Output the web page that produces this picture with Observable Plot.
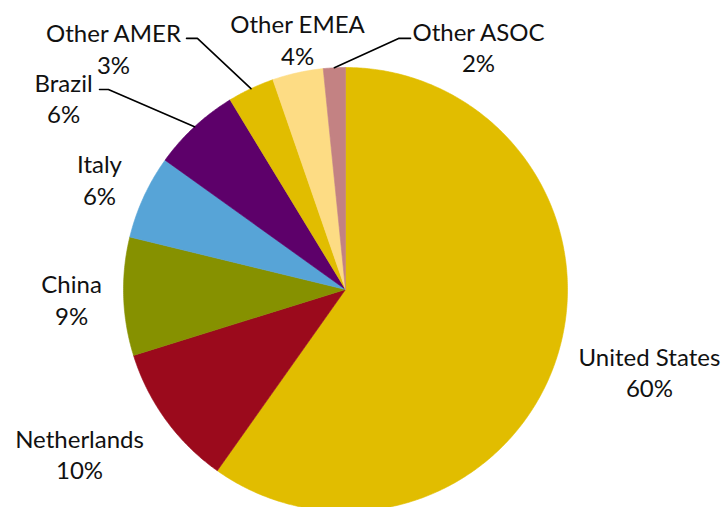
<!DOCTYPE html>
<html><head><meta charset="utf-8">
<script src="https://cdn.jsdelivr.net/npm/d3@7"></script>
<script src="https://cdn.jsdelivr.net/npm/@observablehq/plot@0.6"></script>
<style>html,body{margin:0;padding:0;background:#fff}</style>
</head><body><div id="chart"></div>
<script>
// ---- data ----
const categories = ["United States","Netherlands","China","Italy","Brazil","Other AMER","Other EMEA","Other ASOC"];
const shares = [59.8, 10.4, 8.6, 6.1, 6.4, 3.4, 3.7, 1.6];
const percentLabels = ["60%","10%","9%","6%","6%","3%","4%","2%"];
const colors = ["#E1BD00","#9B0A1C","#869100","#57A4D7","#5D006A","#E1BD00","#FDDC84","#C38283"];

// ---- layout (pie units: centre 0,0, radius 1) ----
const labelCenters = [[1.369,-0.369],[-1.198,-0.739],[-1.234,-0.043],[-1.108,0.498],[-1.270,0.863],[-1.045,1.088],[-0.216,1.128],[0.599,1.095]];
const leaderCats = ["Brazil","Other AMER","Other ASOC"];
const leaderElbows = [[-1.068,0.901],[-0.667,1.131],[0.239,1.131]];
const leaderEnds = [[-1.108,0.901],[-0.716,1.131],[0.293,1.131]];

const total = d3.sum(shares);
let acc = 0;
const slices = categories.map((c,i)=>{
  const a0 = acc/total*2*Math.PI; acc += shares[i];
  const a1 = acc/total*2*Math.PI;
  return {name:c, a0, a1, mid:(a0+a1)/2};
});
const pts = [];
slices.forEach(s=>{
  pts.push({name:s.name, x:0, y:0});
  const n = Math.max(2, Math.ceil((s.a1-s.a0)/(Math.PI/360)));
  for(let k=0;k<=n;k++){const a=s.a0+(s.a1-s.a0)*k/n; pts.push({name:s.name, x:Math.sin(a), y:Math.cos(a)});}
  pts.push({name:s.name, x:0, y:0});
});
const labels = categories.map((c,i)=>({name:c, text:c+"\n"+percentLabels[i], x:labelCenters[i][0], y:labelCenters[i][1]}));
const leaderPts = [];
leaderCats.forEach((c,j)=>{
  const s = slices.find(d=>d.name===c);
  leaderPts.push({name:c, x:Math.sin(s.mid), y:Math.cos(s.mid)});
  leaderPts.push({name:c, x:leaderElbows[j][0], y:leaderElbows[j][1]});
  leaderPts.push({name:c, x:leaderEnds[j][0], y:leaderEnds[j][1]});
});

const R = 222, CX = 345, CY = 289, W = 726, H = 507;
const chart = Plot.plot({
  width: W, height: H, margin: 0,
  x: {domain: [-CX/R, (W-CX)/R], axis: null},
  y: {domain: [-(H-CY)/R, CY/R], axis: null},
  color: {domain: categories, range: colors},
  style: {fontFamily: "Lato, 'Open Sans', sans-serif", background: "#fff", overflow: "visible"},
  marks: [
    Plot.line(pts, {x:"x", y:"y", z:"name", fill:"name", stroke:"name", strokeWidth:0.6, curve:"linear"}),
    Plot.line(leaderPts, {x:"x", y:"y", z:"name", stroke:"#000", strokeWidth:1.6}),
    Plot.text(labels, {x:"x", y:"y", text:"text", fontSize:24, lineHeight:1.3, fill:"#111", textAnchor:"middle"})
  ]
});
document.getElementById("chart").appendChild(chart);
</script>
</body></html>
